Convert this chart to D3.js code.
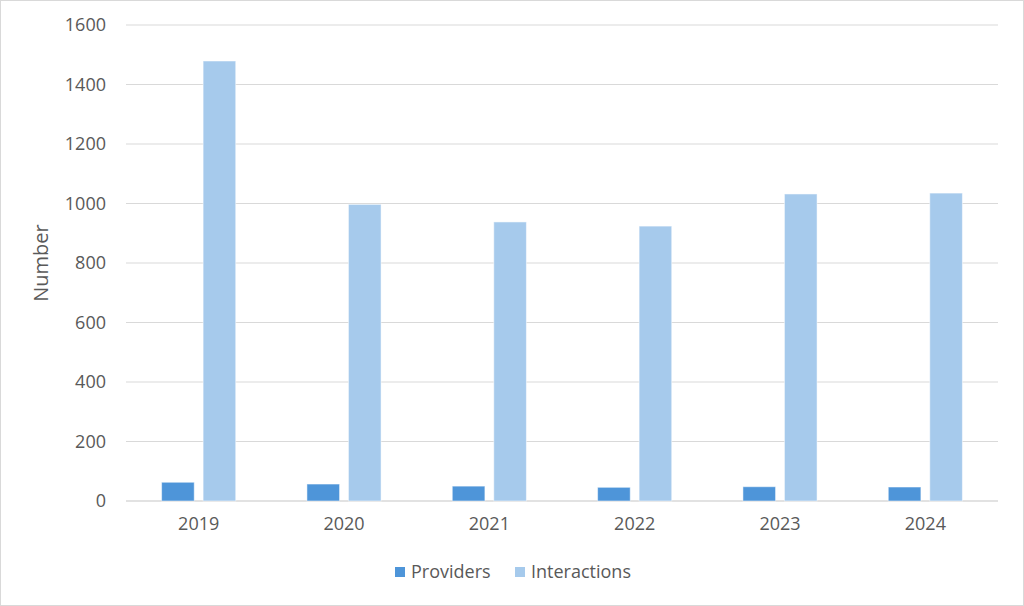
<!DOCTYPE html>
<html>
<head>
<meta charset="utf-8">
<script src="https://cdn.jsdelivr.net/npm/d3@7"></script>
<style>
  body { margin: 0; background: #fff; }
  svg text { font-family: "Open Sans", "Liberation Sans", sans-serif; fill: #595959; }
</style>
</head>
<body>
<div id="chart"></div>
<script>
// data
var years = ["2019", "2020", "2021", "2022", "2023", "2024"];
var providers = [63, 57, 50, 46, 48, 47];
var interactions = [1479, 997, 938, 924, 1032, 1035];
var seriesNames = ["Providers", "Interactions"];
var seriesColors = ["#4E95D9", "#A6CAEC"];
var yTicks = [0, 200, 400, 600, 800, 1000, 1200, 1400, 1600];

var W = 1024, H = 606;
var margin = {top: 25, right: 26, bottom: 105, left: 126}
  , width = W - margin.left - margin.right
  , height = H - margin.top - margin.bottom;

var svg = d3.select("#chart").append("svg")
    .attr("width", W)
    .attr("height", H);

// chart frame
svg.append("rect")
    .attr("x", 0.5).attr("y", 0.5)
    .attr("width", W - 1).attr("height", H - 1)
    .attr("fill", "#fff")
    .attr("stroke", "#D9D9D9");

var g = svg.append("g")
    .attr("transform", "translate(" + margin.left + "," + margin.top + ")");

var x = d3.scaleBand()
    .domain(years)
    .range([0, width])
    .paddingInner(0.49)
    .paddingOuter(0.245);

var xInner = d3.scaleBand()
    .domain(seriesNames)
    .range([0, x.bandwidth()])
    .paddingInner(0.214);

var y = d3.scaleLinear()
    .domain([0, 1600])
    .range([height, 0]);

// gridlines
g.selectAll(".grid")
    .data(yTicks)
  .enter().append("line")
    .attr("x1", 0).attr("x2", width)
    .attr("y1", function(d) { return y(d); })
    .attr("y2", function(d) { return y(d); })
    .attr("stroke", "#D9D9D9")
    .attr("stroke-width", function(d) { return d === 0 ? 1.5 : 1; });

// y axis labels
var yAxis = g.append("g")
    .call(d3.axisLeft(y).tickValues(yTicks).tickFormat(d3.format("d")).tickSize(0).tickPadding(20));
yAxis.select(".domain").remove();
yAxis.selectAll("text").style("font-size", "18px").attr("fill", "#595959");

// x axis labels
var xAxis = g.append("g")
    .attr("transform", "translate(0," + height + ")")
    .call(d3.axisBottom(x).tickSize(0).tickPadding(16));
xAxis.select(".domain").remove();
xAxis.selectAll("text").style("font-size", "18px").attr("fill", "#595959");

// bars
var rows = years.map(function(yr, i) {
  return {year: yr, values: [providers[i], interactions[i]]};
});

var groups = g.selectAll(".yr")
    .data(rows)
  .enter().append("g")
    .attr("transform", function(d) { return "translate(" + x(d.year) + ",0)"; });

groups.selectAll("rect")
    .data(function(d) { return d.values.map(function(v, k) { return {name: seriesNames[k], v: v, k: k}; }); })
  .enter().append("rect")
    .attr("x", function(d) { return xInner(d.name); })
    .attr("y", function(d) { return y(d.v); })
    .attr("width", xInner.bandwidth())
    .attr("height", function(d) { return height - y(d.v); })
    .attr("fill", function(d) { return seriesColors[d.k]; })
    .attr("stroke", "#fff")
    .attr("stroke-opacity", 0.5)
    .attr("stroke-width", 1);

// y axis title
svg.append("text")
    .attr("transform", "translate(48," + (margin.top + height / 2) + ") rotate(-90)")
    .attr("text-anchor", "middle")
    .style("font-size", "20px")
    .text("Number");

// legend
var legendX = [395, 515];
var legend = svg.selectAll(".legend")
    .data(seriesNames)
  .enter().append("g")
    .attr("transform", function(d, i) { return "translate(" + legendX[i] + ",567)"; });

legend.append("rect")
    .attr("width", 10).attr("height", 10)
    .attr("fill", function(d, i) { return seriesColors[i]; });

legend.append("text")
    .attr("x", 16).attr("y", 5)
    .attr("dy", "0.35em")
    .style("font-size", "18px")
    .text(function(d) { return d; });
</script>
</body>
</html>
